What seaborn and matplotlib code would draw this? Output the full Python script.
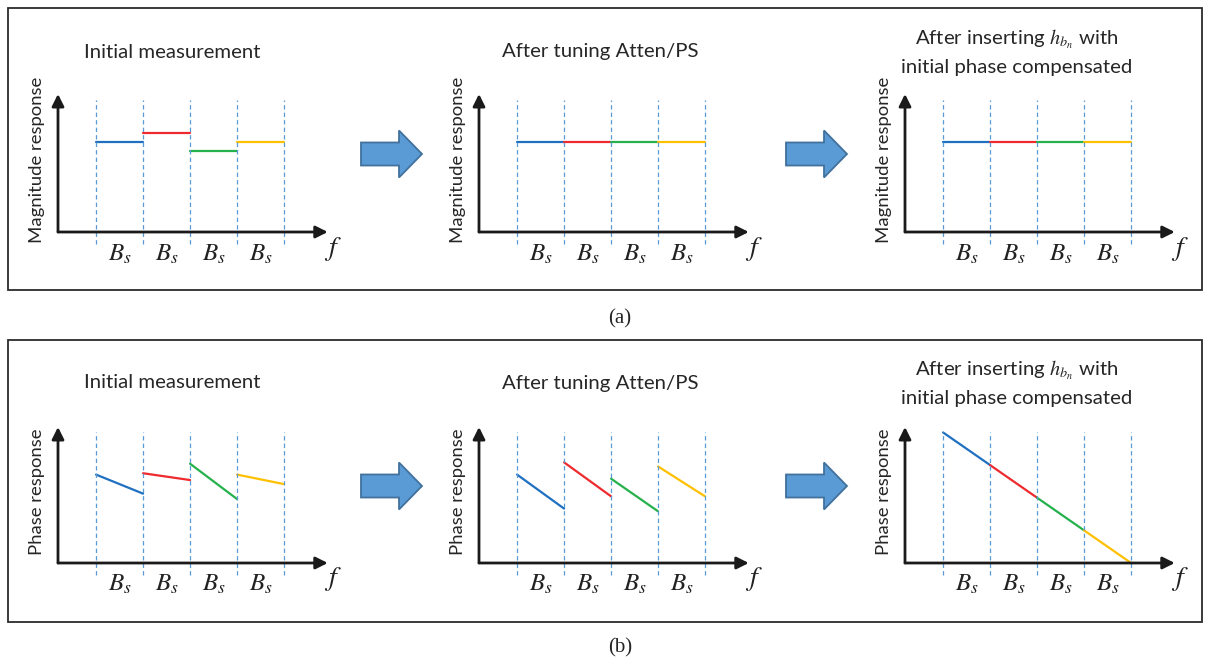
import numpy as np
import pandas as pd
import matplotlib.pyplot as plt
import seaborn as sns
from matplotlib.patches import Rectangle, FancyArrow

sns.set_theme(style="white")
plt.rcParams['font.family'] = ['Lato', 'DejaVu Sans']
plt.rcParams['mathtext.fontset'] = 'stix'

# band edges along f, and one colour per sub-band
band_edges = [0, 1, 2, 3, 4]
band_names = ['b1', 'b2', 'b3', 'b4']
band_colors = ['#1F70C1', '#EE2A2E', '#25B14B', '#FFC000']
band_label = '$B_s$'

# magnitude response per band (flat segments)
mag_initial = [6.5, 7.2, 5.9, 6.5]
mag_tuned = [6.5, 6.5, 6.5, 6.5]
mag_final = [6.5, 6.5, 6.5, 6.5]

# phase response per band: value at start and at end of each band
ph_initial_start = [6.5, 6.6, 7.3, 6.5]
ph_initial_end = [5.1, 6.1, 4.7, 5.8]
ph_tuned_start = [6.5, 7.4, 6.2, 7.1]
ph_tuned_end = [4.0, 4.9, 3.8, 4.9]
ph_final_start = [9.6, 7.2, 4.8, 2.4]
ph_final_end = [7.2, 4.8, 2.4, 0.0]

titles = ['Initial measurement', 'After tuning Atten/PS',
          'After inserting $h_{b_n}$ with\ninitial phase compensated']
row_ylabels = ['Magnitude response', 'Phase response']
row_data = [
    [(mag_initial, mag_initial), (mag_tuned, mag_tuned), (mag_final, mag_final)],
    [(ph_initial_start, ph_initial_end), (ph_tuned_start, ph_tuned_end),
     (ph_final_start, ph_final_end)],
]

W, H = 1210, 660
fig = plt.figure(figsize=(12.1, 6.6), dpi=100)

# overlay in pixel coords for frames, block arrows and captions
ov = fig.add_axes([0, 0, 1, 1], zorder=-1)
ov.set_xlim(0, W)
ov.set_ylim(H, 0)
ov.axis('off')

for top in [8, 340]:
    ov.add_patch(Rectangle((8, top), 1194, 282, fill=False, ec='#2b2b2b', lw=1.3))
ov.text(620, 319, '(a)', ha='center', va='center', fontsize=15, family='Liberation Serif')
ov.text(620, 648, '(b)', ha='center', va='center', fontsize=15, family='Liberation Serif')

for yc in [154, 486]:
    for x0 in [361, 786]:
        ov.add_patch(FancyArrow(x0, yc, 61, 0, width=23, head_width=47, head_length=23,
                                length_includes_head=True, fc='#5B9BD5', ec='#41719C', lw=1.3))

title_x = [172, 600, 1017]
title_y = [52, 383]
for r in range(2):
    for c in range(3):
        ov.text(title_x[c], title_y[r], titles[c], ha='center', va='center',
                fontsize=14.7, color='#262626', linespacing=1.55)

# panel layout (pixels): y-axis origin x, x-axis y and arrow tip y
origin_x = [58, 479, 905]
axis_y = [232, 563]
tip_y = [94, 427]
band_px = 47
xlo, xhi = -0.81, 4.93

for r in range(2):
    for c in range(3):
        h = axis_y[r] - tip_y[r]
        wpx = (xhi - xlo) * band_px
        ax = fig.add_axes([origin_x[c] / W, (H - axis_y[r]) / H, wpx / W, h / H])
        ax.set_xlim(xlo, xhi)
        ax.set_ylim(0, 10)
        ax.axis('off')

        starts, ends = row_data[r][c]
        rows = []
        for i, name in enumerate(band_names):
            rows.append((band_edges[i], starts[i], name))
            rows.append((band_edges[i + 1], ends[i], name))
        df = pd.DataFrame(rows, columns=['f', 'value', 'band'])
        sns.lineplot(data=df, x='f', y='value', hue='band', palette=band_colors,
                     legend=False, lw=1.6, ax=ax, clip_on=False)

        ax.vlines(band_edges, -0.9, 9.6, colors='#5B9BD5', lw=0.9,
                  linestyles=(0, (3.5, 2.5)), clip_on=False)

        arrow = dict(arrowstyle='-|>', lw=2, color='#1a1a1a', mutation_scale=18,
                     shrinkA=0, shrinkB=0)
        ax.annotate('', xy=(xhi, 0), xytext=(xlo, 0), arrowprops=arrow, annotation_clip=False)
        ax.annotate('', xy=(xlo, 10), xytext=(xlo, 0), arrowprops=arrow, annotation_clip=False)

        for i in range(4):
            ax.text(band_edges[i] + 0.5, -1.6, band_label, ha='center', va='center',
                    fontsize=18, color='#222222')
        ax.text(xhi + 0.1, -1.2, '$f$', ha='center', va='center', fontsize=20, color='#222222')
        ax.text(-1.26, 5.25, row_ylabels[r], rotation=90, ha='center', va='center',
                fontsize=13.3, color='#262626')

fig.savefig('out.png', dpi=100)
